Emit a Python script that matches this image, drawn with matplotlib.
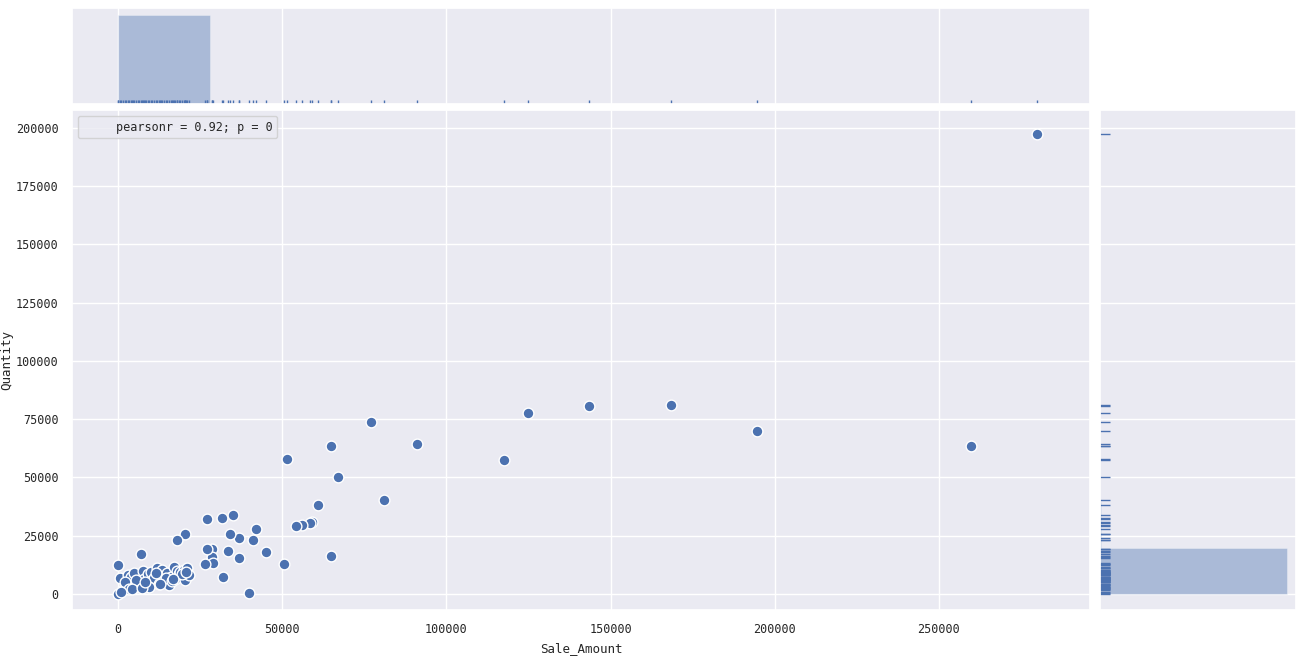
import numpy as np
import matplotlib
matplotlib.use("Agg")
import matplotlib.pyplot as plt
import seaborn as sns

sns.set_theme(style="darkgrid")
plt.rcParams['font.family'] = ['DejaVu Sans Mono']

# Sale_Amount vs Quantity
sale_amount = [
    280000, 259800, 194500, 168500, 143500, 125000, 117500, 91000, 81000, 77000,
    67000, 65000, 65000, 61000, 59000, 58500, 56000, 54200, 51500, 50500,
    45000, 42000, 41000, 40000, 37000, 37000, 35000, 34000, 33500, 31800,
    32000, 28500, 28500, 29000, 27000, 27000, 26500, 20500, 18000, 7000,
    0, 0, 500, 1500, 2500, 3000, 4000, 4500, 5000, 6000,
    6500, 7500, 8000, 8500, 9000, 10000, 10500, 11000, 12000, 12500,
    13000, 13500, 14000, 15000, 15500, 16000, 17000, 17500, 18000, 18500,
    19000, 20000, 20500, 21000, 21500, 2000, 3500, 5500, 9500, 14500,
    16500, 19500, 11500, 1000, 4200, 7200, 12800, 16800, 20800, 8200,
]
quantity = [
    197500, 63700, 70000, 81000, 80500, 77500, 57700, 64200, 40200, 74000,
    50000, 63300, 16200, 38000, 30800, 30300, 29700, 29200, 58000, 12700,
    18000, 27800, 23200, 500, 24000, 15300, 33700, 25600, 18500, 32500,
    7500, 19200, 16000, 13500, 32100, 19500, 12800, 25700, 23000, 17000,
    12500, 0, 7000, 1500, 3000, 8000, 7500, 2500, 9000, 5000,
    4000, 10000, 6500, 3500, 8500, 9500, 5500, 7000, 11000, 4500,
    8000, 10500, 6000, 9000, 4000, 7500, 11500, 6500, 10000, 8500,
    9500, 10500, 6000, 11000, 8000, 5000, 2000, 6000, 3000, 7000,
    5500, 8500, 9000, 1000, 2000, 2500, 4500, 6500, 9500, 5000,
]
# marginal histogram heights (relative: first bin dominates)
x_bin_heights = [1.0, 0.004, 0.002, 0.001, 0.001, 0.001, 0.0, 0.001, 0.0, 0.001]
y_bin_heights = [1.0, 0.004, 0.002, 0.001, 0.002, 0.0, 0.0, 0.0, 0.0, 0.001]

x = np.array(sale_amount)
y = np.array(quantity)
blue = "#4c72b0"

fig = plt.figure(figsize=(13.01, 6.63), dpi=100)
W, H = 1301, 663
ax = fig.add_axes([72 / W, 1 - 610 / H, (1090 - 72) / W, (610 - 110) / H])
axt = fig.add_axes([72 / W, 1 - 104 / H, (1090 - 72) / W, (104 - 8) / H], sharex=ax)
axr = fig.add_axes([1100 / W, 1 - 610 / H, (1296 - 1100) / W, (610 - 110) / H], sharey=ax)

ax.scatter(x, y, s=60, color=blue, edgecolor="white", linewidth=1, zorder=3)
ax.set_xlabel("Sale_Amount", fontsize=9)
ax.set_ylabel("Quantity", fontsize=9, labelpad=2)
ax.tick_params(labelsize=8.5)
ax.set_xlim(-14000, 296000)
ax.set_ylim(-6870, 207700)
ax.set_xticks(np.arange(0, 250001, 50000))
ax.set_yticks(np.arange(0, 200001, 25000))
h, = ax.plot([], [], linestyle="none")
ax.legend([h], ["pearsonr = 0.92; p = 0"], loc="upper left", fontsize=8.5,
          frameon=True, facecolor="#eaeaf2", edgecolor="#cccccc", handlelength=2)

xedges = np.linspace(x.min(), x.max(), 11)
yedges = np.linspace(y.min(), y.max(), 11)
axt.bar(xedges[:-1], x_bin_heights, width=np.diff(xedges), align="edge",
        color=blue, alpha=0.4, edgecolor="white", linewidth=0.5)
axt.vlines(x, 0, 0.045, transform=axt.get_xaxis_transform(), color=blue, lw=1)
axt.tick_params(labelbottom=False, labelleft=False, length=0)
axt.set_yticks([])
axt.set_ylim(0, 1.08)

axr.barh(yedges[:-1], y_bin_heights, height=np.diff(yedges), align="edge",
         color=blue, alpha=0.4, edgecolor="white", linewidth=0.5)
axr.hlines(y, 0, 0.05, transform=axr.get_yaxis_transform(), color=blue, lw=1)
axr.tick_params(labelbottom=False, labelleft=False, length=0)
axr.set_xticks([])
axr.set_xlim(0, 1.05)

fig.text(1.0, 0.01, "https://blog.csdn.net/lam_yx", ha="right", va="bottom",
         color="white", fontsize=11, alpha=0.8)
fig.savefig("out.png", dpi=100)
